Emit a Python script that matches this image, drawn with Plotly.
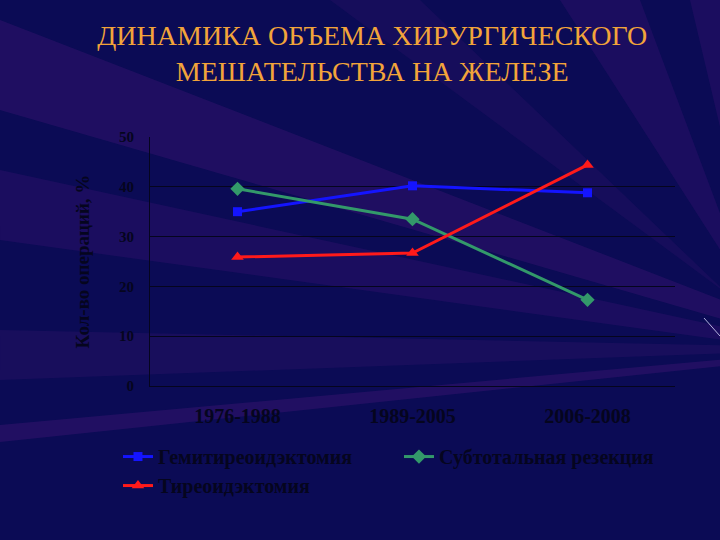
import plotly.graph_objects as go

# data
periods = ["1976-1988", "1989-2005", "2006-2008"]
hemi = [35.0, 40.2, 38.8]
subtotal = [39.6, 33.5, 17.3]
total = [25.9, 26.7, 44.4]
names = ["Гемитиреоидэктомия", "Субтотальная резекция", "Тиреоидэктомия"]
y_ticks = [0, 10, 20, 30, 40, 50]

serif = "Liberation Serif, Times New Roman, serif"
ink = "#05051e"

W, H = 720, 540
L, R, T, B = 150, 45, 137, 154


def px_to_paper(x, y):
    # convert slide pixel coordinates into the plot's paper coordinates
    return (x - L) / (W - L - R), (H - B - y) / (H - T - B)


def ray(points, alpha=0.22):
    pts = [px_to_paper(x, y) for x, y in points]
    path = "M " + " L ".join(f"{x:.4f} {y:.4f}" for x, y in pts) + " Z"
    return dict(
        type="path",
        path=path,
        xref="paper",
        yref="paper",
        fillcolor=f"rgba(85,25,130,{alpha})",
        line=dict(width=0),
        layer="below",
    )


fig = go.Figure()

series = [
    (hemi, names[0], "#1414ff", "square", 9),
    (subtotal, names[1], "#33996a", "diamond", 11),
    (total, names[2], "#ff1a1a", "triangle-up", 11),
]
for vals, name, color, symbol, size in series:
    fig.add_trace(
        go.Scatter(
            x=periods,
            y=vals,
            name=name,
            mode="lines+markers",
            line=dict(color=color, width=3),
            marker=dict(symbol=symbol, size=size, color=color),
        )
    )

# faint purple rays of the slide background, fanning out from the right edge
shapes = [
    ray([(0, 20), (0, 110), (760, 330), (760, 315)], 0.28),
    ray([(0, 170), (0, 240), (760, 345), (760, 335)]),
    ray([(0, 330), (0, 380), (760, 352), (760, 346)], 0.18),
    ray([(0, 425), (0, 442), (760, 362), (760, 356)], 0.3),
    ray([(560, 0), (640, 0), (760, 320), (760, 312)]),
    ray([(330, 0), (420, 0), (760, 325), (760, 318)], 0.15),
    ray([(690, 0), (720, 0), (760, 300), (760, 296)]),
    dict(
        type="line",
        xref="paper",
        yref="paper",
        x0=px_to_paper(704, 318)[0],
        y0=px_to_paper(704, 318)[1],
        x1=px_to_paper(720, 336)[0],
        y1=px_to_paper(720, 336)[1],
        line=dict(color="rgba(220,220,255,0.8)", width=1),
        layer="below",
    ),
]

fig.update_layout(
    width=W,
    height=H,
    paper_bgcolor="#0b0b55",
    plot_bgcolor="rgba(0,0,0,0)",
    margin=dict(l=L, r=R, t=T, b=B),
    title=dict(
        text="ДИНАМИКА ОБЪЕМА ХИРУРГИЧЕСКОГО<br>МЕШАТЕЛЬСТВА НА ЖЕЛЕЗЕ",
        x=0.517,
        xanchor="center",
        y=0.917,
        yanchor="top",
        font=dict(family=serif, size=28, color="#f2a43a"),
    ),
    xaxis=dict(
        range=[-0.5, 2.5],
        showgrid=False,
        showline=True,
        linecolor=ink,
        linewidth=1,
        ticks="",
        tickfont=dict(family=serif, size=20, color=ink, weight="bold"),
        ticklabelstandoff=12,
    ),
    yaxis=dict(
        range=[0, 50],
        tickvals=y_ticks,
        showgrid=True,
        gridcolor=ink,
        gridwidth=1,
        showline=True,
        linecolor=ink,
        linewidth=1,
        zeroline=False,
        ticks="",
        tickfont=dict(family=serif, size=15, color=ink, weight="bold"),
        ticklabelstandoff=12,
        title=dict(
            text="Кол-во операций, %",
            font=dict(family=serif, size=19, color=ink, weight="bold"),
            standoff=24,
        ),
    ),
    legend=dict(
        orientation="h",
        x=-0.061,
        xanchor="left",
        y=-0.205,
        yanchor="top",
        entrywidth=236,
        entrywidthmode="pixels",
        font=dict(family=serif, size=20, color=ink, weight="bold"),
        bgcolor="rgba(0,0,0,0)",
    ),
    shapes=shapes,
    showlegend=True,
)

fig.write_html(
    "out.html",
    config={"displayModeBar": False},
    post_script="document.body.style.margin='0';",
)
